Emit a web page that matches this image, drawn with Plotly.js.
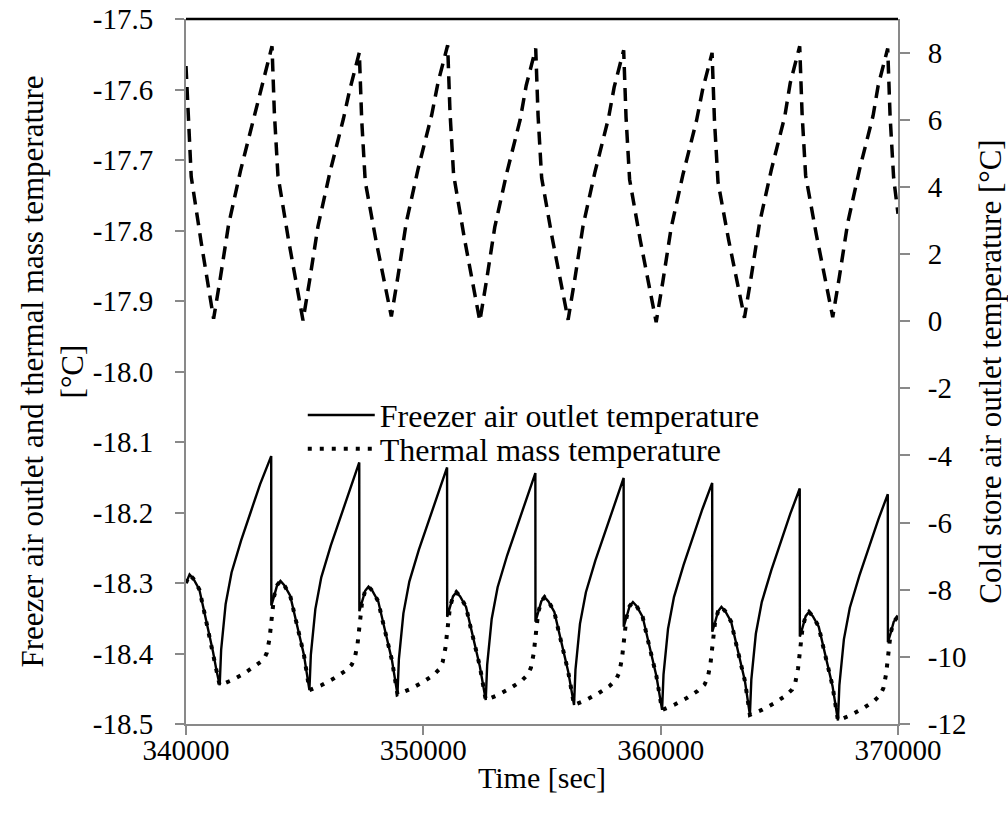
<!DOCTYPE html>
<html>
<head>
<meta charset="utf-8">
<script src="https://cdn.plot.ly/plotly-3.0.1.min.js"></script>
<style>
  html, body { margin: 0; padding: 0; background: #ffffff; }
  #chart { width: 1008px; height: 818px; }
</style>
</head>
<body>
<div id="chart"></div>
<script>
// ---- Freezer air outlet temperature (left axis) ----
const freezerTime = [
  340000, 340150, 340310, 340560, 340725, 340885, 341140, 341290, 341420,
  341480, 341670, 341920, 342320, 342720, 343120, 343590, 343595, 343710, 343840, 343980, 344140, 344390, 344555, 344715, 344970, 345200,
  345260, 345450, 345700, 346100, 346500, 346900, 347300, 347305, 347420, 347550, 347690, 347850, 348100, 348265, 348425, 348680, 348910,
  348970, 349160, 349410, 349810, 350210, 350610, 351000, 351005, 351120, 351250, 351390, 351550, 351800, 351965, 352125, 352380, 352630,
  352690, 352880, 353130, 353530, 353930, 354330, 354720, 354725, 354840, 354970, 355110, 355270, 355520, 355685, 355845, 356100, 356350,
  356410, 356600, 356850, 357250, 357650, 358050, 358440, 358445, 358560, 358690, 358830, 358990, 359240, 359405, 359565, 359820, 360060,
  360120, 360310, 360560, 360960, 361360, 361760, 362170, 362175, 362290, 362420, 362560, 362720, 362970, 363135, 363295, 363550, 363760,
  363820, 364010, 364260, 364660, 365060, 365460, 365860, 365865, 365980, 366110, 366250, 366410, 366660, 366825, 366985, 367240, 367470,
  367530, 367720, 367970, 368370, 368770, 369170, 369570, 369575, 369690, 369820, 369960, 370000
];
const freezerAir = [
  -18.300, -18.288, -18.294, -18.309, -18.334, -18.358, -18.398, -18.425, -18.445,
  -18.395, -18.330, -18.285, -18.240, -18.200, -18.160, -18.120, -18.332, -18.319, -18.303, -18.297, -18.303, -18.318, -18.343, -18.367, -18.402, -18.452,
  -18.402, -18.337, -18.292, -18.247, -18.207, -18.167, -18.129, -18.340, -18.327, -18.311, -18.305, -18.311, -18.326, -18.351, -18.375, -18.410, -18.458,
  -18.408, -18.343, -18.298, -18.253, -18.213, -18.173, -18.136, -18.348, -18.335, -18.319, -18.313, -18.319, -18.334, -18.359, -18.383, -18.418, -18.466,
  -18.416, -18.351, -18.306, -18.261, -18.221, -18.181, -18.144, -18.355, -18.342, -18.326, -18.320, -18.326, -18.341, -18.366, -18.390, -18.425, -18.473,
  -18.423, -18.358, -18.313, -18.268, -18.228, -18.188, -18.151, -18.362, -18.349, -18.333, -18.327, -18.333, -18.348, -18.373, -18.397, -18.432, -18.480,
  -18.430, -18.365, -18.320, -18.275, -18.235, -18.195, -18.158, -18.369, -18.356, -18.340, -18.334, -18.340, -18.355, -18.380, -18.404, -18.439, -18.487,
  -18.437, -18.372, -18.327, -18.282, -18.242, -18.202, -18.166, -18.376, -18.363, -18.347, -18.341, -18.347, -18.362, -18.387, -18.411, -18.446, -18.495,
  -18.445, -18.380, -18.335, -18.290, -18.250, -18.210, -18.174, -18.384, -18.371, -18.355, -18.349, -18.350
];

// ---- Thermal mass temperature (left axis) ----
const massTime = [
  340000, 340150, 340310, 340560, 340725, 340885, 341140, 341290, 341420,
  341920, 342420, 342920, 343270, 343405, 343520, 343710, 343840, 343980, 344140, 344390, 344555, 344715, 344970, 345200,
  345700, 346200, 346700, 346980, 347115, 347230, 347420, 347550, 347690, 347850, 348100, 348265, 348425, 348680, 348910,
  349410, 349910, 350410, 350680, 350815, 350930, 351120, 351250, 351390, 351550, 351800, 351965, 352125, 352380, 352630,
  353130, 353630, 354130, 354400, 354535, 354650, 354840, 354970, 355110, 355270, 355520, 355685, 355845, 356100, 356350,
  356850, 357350, 357850, 358120, 358255, 358370, 358560, 358690, 358830, 358990, 359240, 359405, 359565, 359820, 360060,
  360560, 361060, 361560, 361850, 361985, 362100, 362290, 362420, 362560, 362720, 362970, 363135, 363295, 363550, 363760,
  364260, 364760, 365260, 365540, 365675, 365790, 365980, 366110, 366250, 366410, 366660, 366825, 366985, 367240, 367470,
  367970, 368470, 368970, 369250, 369385, 369500, 369690, 369820, 369960, 370000
];
const thermalMass = [
  -18.300, -18.288, -18.294, -18.309, -18.334, -18.358, -18.398, -18.425, -18.445,
  -18.438, -18.429, -18.418, -18.409, -18.399, -18.379, -18.319, -18.303, -18.297, -18.303, -18.318, -18.343, -18.367, -18.402, -18.452,
  -18.445, -18.436, -18.425, -18.416, -18.406, -18.386, -18.327, -18.311, -18.305, -18.311, -18.326, -18.351, -18.375, -18.410, -18.458,
  -18.451, -18.442, -18.431, -18.422, -18.412, -18.392, -18.335, -18.319, -18.313, -18.319, -18.334, -18.359, -18.383, -18.418, -18.466,
  -18.459, -18.450, -18.439, -18.430, -18.420, -18.400, -18.342, -18.326, -18.320, -18.326, -18.341, -18.366, -18.390, -18.425, -18.473,
  -18.466, -18.457, -18.446, -18.437, -18.427, -18.407, -18.349, -18.333, -18.327, -18.333, -18.348, -18.373, -18.397, -18.432, -18.480,
  -18.473, -18.464, -18.453, -18.444, -18.434, -18.414, -18.356, -18.340, -18.334, -18.340, -18.355, -18.380, -18.404, -18.439, -18.487,
  -18.480, -18.471, -18.460, -18.451, -18.441, -18.421, -18.363, -18.347, -18.341, -18.347, -18.362, -18.387, -18.411, -18.446, -18.495,
  -18.488, -18.479, -18.468, -18.459, -18.449, -18.429, -18.371, -18.355, -18.349, -18.350
];

// ---- Cold store air outlet temperature (right axis) ----
const coldTime = [
  340000, 340100, 340220, 340650, 341163,
  341443, 341793, 342293, 342863, 343224, 343624, 343724, 343874, 344324, 344930,
  345210, 345560, 346060, 346630, 346903, 347303, 347403, 347553, 348003, 348652,
  348932, 349282, 349782, 350352, 350624, 351024, 351124, 351274, 351724, 352380,
  352660, 353010, 353510, 354080, 354335, 354735, 354835, 354985, 355435, 356100,
  356380, 356730, 357230, 357800, 358041, 358441, 358541, 358691, 359141, 359810,
  360090, 360440, 360940, 361510, 361766, 362166, 362266, 362416, 362866, 363530,
  363810, 364160, 364660, 365230, 365458, 365858, 365958, 366108, 366558, 367250,
  367530, 367880, 368380, 368950, 369166, 369566, 369666, 369816, 370000
];
const coldStore = [
  7.60, 5.90, 4.30, 2.30, 0.07,
  1.27, 2.87, 4.47, 6.07, 7.09, 8.19, 6.19, 4.34, 2.40, 0.02,
  1.22, 2.82, 4.42, 6.02, 6.90, 8.00, 6.00, 4.15, 2.41, 0.14,
  1.34, 2.94, 4.54, 6.14, 7.12, 8.22, 6.22, 4.37, 2.49, 0.00,
  1.20, 2.80, 4.40, 6.00, 7.02, 8.12, 6.12, 4.27, 2.46, 0.04,
  1.24, 2.84, 4.44, 6.04, 6.97, 8.07, 6.07, 4.22, 2.41, -0.03,
  1.17, 2.77, 4.37, 5.97, 6.89, 7.99, 5.99, 4.14, 2.41, 0.10,
  1.30, 2.90, 4.50, 6.10, 7.09, 8.19, 6.19, 4.34, 2.58, 0.12,
  1.32, 2.92, 4.52, 6.12, 7.02, 8.12, 6.12, 4.27, 3.20
];

// ---- Tick labels ----
const xTickVals = [340000, 350000, 360000, 370000];
const xTickText = ['340000', '350000', '360000', '370000'];
const leftTickVals = [-18.5, -18.4, -18.3, -18.2, -18.1, -18.0, -17.9, -17.8, -17.7, -17.6, -17.5];
const leftTickText = ['-18.5', '-18.4', '-18.3', '-18.2', '-18.1', '-18.0', '-17.9', '-17.8', '-17.7', '-17.6', '-17.5'];
const rightTickVals = [-12, -10, -8, -6, -4, -2, 0, 2, 4, 6, 8];
const rightTickText = ['-12', '-10', '-8', '-6', '-4', '-2', '0', '2', '4', '6', '8'];

const FONT = 'Liberation Serif';
const AXIS_GREY = '#898989';

const traces = [
  {
    x: freezerTime, y: freezerAir, type: 'scatter', mode: 'lines',
    name: 'Freezer air outlet temperature',
    line: { color: '#000000', width: 2.4 },
    yaxis: 'y', legend: 'legend'
  },
  {
    x: massTime, y: thermalMass, type: 'scatter', mode: 'lines',
    name: 'Thermal mass temperature',
    line: { color: '#000000', width: 4, dash: '4px,8px' },
    yaxis: 'y', legend: 'legend2'
  },
  {
    x: coldTime, y: coldStore, type: 'scatter', mode: 'lines',
    name: 'Cold store air outlet temperature',
    line: { color: '#000000', width: 3.5, dash: '13px,8px' },
    yaxis: 'y2', showlegend: false
  }
];

const layout = {
  width: 1008, height: 818,
  margin: { l: 186, r: 110, t: 19, b: 94, pad: 0 },
  paper_bgcolor: '#ffffff', plot_bgcolor: '#ffffff',
  font: { family: FONT, size: 29, color: '#000000' },
  xaxis: {
    range: [340000, 370000], fixedrange: true,
    showline: true, linecolor: AXIS_GREY, linewidth: 2,
    ticks: 'outside', tickcolor: AXIS_GREY, tickwidth: 2, ticklen: 9,
    showgrid: false, zeroline: false,
    tickmode: 'array', tickvals: xTickVals, ticktext: xTickText,
    tickfont: { family: FONT, size: 29, color: '#000000' },
    ticklabelstandoff: -10,
    title: { text: 'Time [sec]', font: { family: FONT, size: 30, color: '#000000' }, standoff: 2 }
  },
  yaxis: {
    range: [-18.5, -17.5], fixedrange: true,
    showline: true, linecolor: AXIS_GREY, linewidth: 2,
    ticks: 'outside', tickcolor: AXIS_GREY, tickwidth: 2, ticklen: 9,
    showgrid: false, zeroline: false,
    tickmode: 'array', tickvals: leftTickVals, ticktext: leftTickText,
    tickfont: { family: FONT, size: 29, color: '#000000' },
    ticklabelstandoff: 16,
    title: { text: 'Freezer air outlet and thermal mass temperature<br>[°C]', font: { family: FONT, size: 31, color: '#000000' }, standoff: 0 }
  },
  yaxis2: {
    range: [-12, 9], overlaying: 'y', side: 'right', fixedrange: true,
    showline: true, linecolor: AXIS_GREY, linewidth: 2,
    ticks: 'outside', tickcolor: AXIS_GREY, tickwidth: 2, ticklen: 10,
    showgrid: false, zeroline: false,
    tickmode: 'array', tickvals: rightTickVals, ticktext: rightTickText,
    tickfont: { family: FONT, size: 29, color: '#000000' },
    ticklabelstandoff: 12,
    title: { text: 'Cold store air outlet temperature [°C]', font: { family: FONT, size: 31, color: '#000000' }, standoff: 15 }
  },
  legend: {
    x: 0.164, y: 0.438, xanchor: 'left', yanchor: 'middle',
    bgcolor: 'rgba(0,0,0,0)', borderwidth: 0, itemwidth: 67,
    font: { family: FONT, size: 32, color: '#000000' }
  },
  legend2: {
    x: 0.164, y: 0.390, xanchor: 'left', yanchor: 'middle',
    bgcolor: 'rgba(0,0,0,0)', borderwidth: 0, itemwidth: 67,
    font: { family: FONT, size: 32, color: '#000000' }
  },
  shapes: [
    { type: 'line', xref: 'paper', yref: 'paper', x0: 0, x1: 1, y0: 1, y1: 1,
      line: { color: '#000000', width: 2.5 } }
  ]
};

Plotly.newPlot('chart', traces, layout, { displayModeBar: false, staticPlot: true });
</script>
</body>
</html>
